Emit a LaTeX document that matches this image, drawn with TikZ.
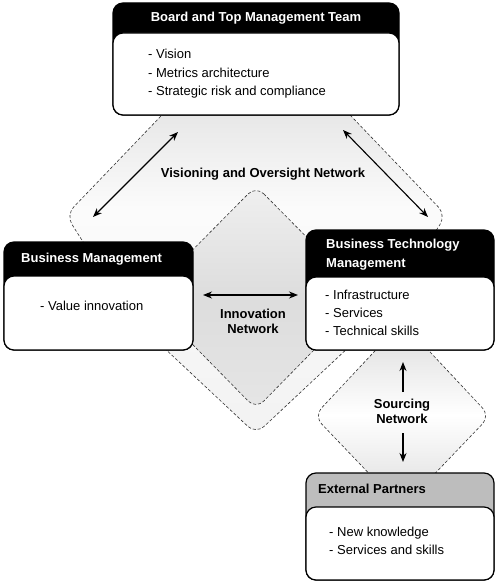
\documentclass[tikz,border=0pt]{standalone}
\usepackage{fontspec}
\setmainfont{Liberation Sans}
\usetikzlibrary{arrows.meta,positioning}
\definecolor{headgray}{gray}{0.74}

% vertical shadings (path box is fitted to 25bp..75bp, 25bp at the bottom)
\pgfdeclareverticalshading{visshade}{100bp}{color(0bp)=(gray!10); color(25bp)=(gray!10);
  color(52bp)=(gray!3); color(75bp)=(gray!34); color(100bp)=(gray!34)}
\pgfdeclareverticalshading{innshade}{100bp}{color(0bp)=(gray!20); color(25bp)=(gray!20);
  color(50bp)=(gray!27); color(75bp)=(gray!12); color(100bp)=(gray!12)}
\pgfdeclareverticalshading{srcshade}{100bp}{color(0bp)=(gray!28); color(25bp)=(gray!28);
  color(50bp)=(white); color(75bp)=(gray!28); color(100bp)=(gray!28)}

\begin{document}
\begin{tikzpicture}[x=1pt,y=-1pt,
  net/.style={draw=black!80, line width=0.6pt, dash pattern=on 3pt off 2pt, rounded corners=11pt},
  boxline/.style={line width=1.2pt, rounded corners=10pt},
  headtxt/.style={font=\fontsize{13}{15}\selectfont\bfseries, inner sep=0pt},
  listtxt/.style={font=\fontsize{13}{18.5}\selectfont, align=left, inner sep=0pt, anchor=north west},
  nettxt/.style={font=\fontsize{13}{15}\selectfont\bfseries, align=center, inner sep=0pt, anchor=north},
  link/.style={{Stealth[length=9pt,width=7pt]}-{Stealth[length=9pt,width=7pt]}, line width=1.1pt}]

\useasboundingbox (0,0) rectangle (500,585);

% Visioning and Oversight Network
\path[net, shading=visshade]
  (256,17) -- (446,215) -- (382,316) -- (256,434) -- (130,316) -- (66,215) -- cycle;

% Innovation Network
\path[net, shading=innshade]
  (256,186) -- (366,297) -- (256,409) -- (146,297) -- cycle;

% Sourcing Network
\path[net, shading=srcshade]
  (402,322) -- (490,416) -- (402,508) -- (314,416) -- cycle;

% Board and Top Management Team
\draw[boxline, fill=black] (113,3) rectangle (399,115);
\draw[boxline, fill=white] (113,33) rectangle (399,115);
\node[headtxt, text=white, anchor=base] (board) at (256,22) {Board and Top Management Team};
\node[listtxt] (boardlist) at (148,49) {- Vision\\- Metrics architecture\\- Strategic risk and compliance};

% Business Management
\draw[boxline, fill=black] (4,242) rectangle (193,350);
\draw[boxline, fill=white] (4,276) rectangle (193,350);
\node[headtxt, text=white, anchor=base west] (bm) at (21,262) {Business Management};
\node[listtxt] (bmlist) at (40,301) {- Value innovation};

% Business Technology Management
\draw[boxline, fill=black] (306,230) rectangle (494,350);
\draw[boxline, fill=white] (306,277) rectangle (494,350);
\node[headtxt, text=white, align=left, anchor=north west, font=\fontsize{13}{19}\selectfont\bfseries] (btm) at (326,238.5) {Business Technology\\Management};
\node[listtxt, font=\fontsize{13}{18}\selectfont] (btmlist) at (325,290) {- Infrastructure\\- Services\\- Technical skills};

% External Partners
\draw[boxline, fill=headgray] (306,473) rectangle (494,580);
\draw[boxline, fill=white] (306,507) rectangle (494,580);
\node[headtxt, anchor=base west] (ep) at (318,493) {External Partners};
\node[listtxt, font=\fontsize{13}{17.5}\selectfont] (eplist) at (329,527) {- New knowledge\\- Services and skills};

% Network labels
\node[headtxt, anchor=base] (vislabel) at (263,178) {Visioning and Oversight Network};
\node[nettxt] (innlabel) at (253,308.5) {Innovation\\Network};
\node[nettxt] (srclabel) at (402,398.5) {Sourcing\\Network};

% Arrows
\coordinate (visA) at (178,132);
\coordinate (visB) at (93,217);
\coordinate (visC) at (343,130);
\coordinate (visD) at (428,217);
\coordinate (innA) at (203,295);
\coordinate (innB) at (298,295);
\coordinate (srcA) at (403,392);
\coordinate (srcB) at (403,362);
\coordinate (srcC) at (403,433);
\coordinate (srcD) at (403,462);
\draw[link] (visA) -- (visB);
\draw[link] (visC) -- (visD);
\draw[link] (innA) -- (innB);
\draw[line width=1.1pt, -{Stealth[length=9pt,width=7pt]}] (srcA) -- (srcB);
\draw[line width=1.1pt, -{Stealth[length=9pt,width=7pt]}] (srcC) -- (srcD);

\end{tikzpicture}
\end{document}
